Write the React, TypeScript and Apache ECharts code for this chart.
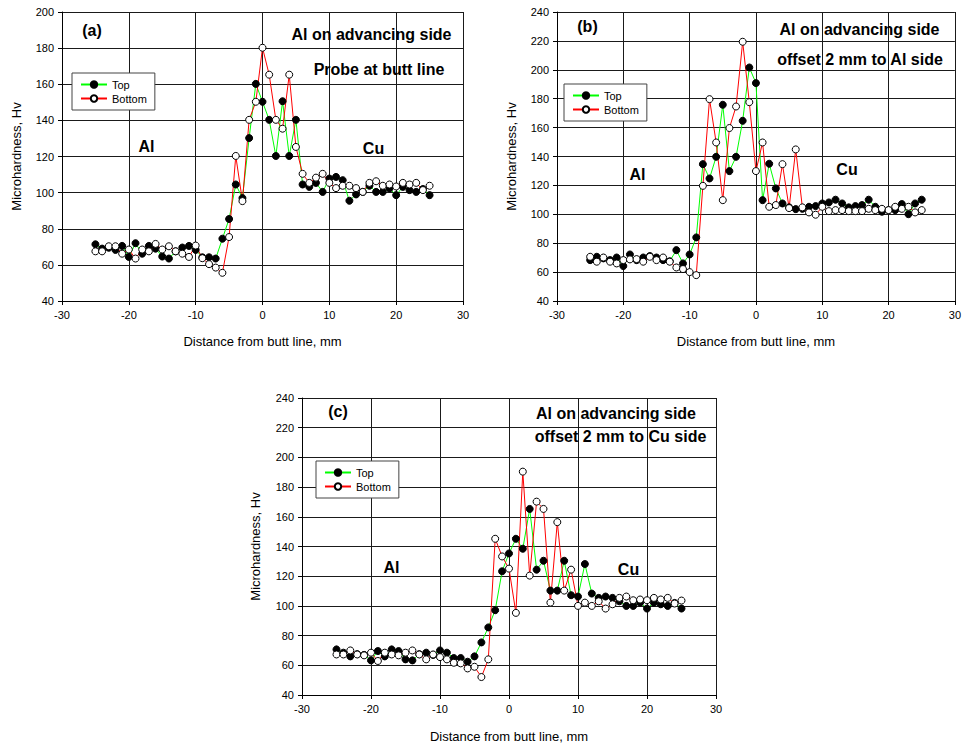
import React, { useEffect, useRef } from "react";
import * as echarts from "echarts";

const distances = [-25, -24, -23, -22, -21, -20, -19, -18, -17, -16, -15, -14, -13, -12, -11, -10, -9, -8, -7, -6, -5, -4, -3, -2, -1, 0, 1, 2, 3, 4, 5, 6, 7, 8, 9, 10, 11, 12, 13, 14, 15, 16, 17, 18, 19, 20, 21, 22, 23, 24, 25];

const topA = [71.4, 69, 69.5, 68.3, 70.5, 64.4, 72, 66.2, 70.5, 69, 64.6, 63.5, 67.5, 69.6, 70.5, 68.3, 64.2, 64.2, 63.5, 74.5, 85.4, 104.5, 97, 130.2, 160.2, 150.3, 140.3, 120.3, 150.6, 120.3, 140.3, 104.5, 103.2, 105.4, 100.4, 107.8, 108.7, 106.9, 95.5, 99, 100.4, 103.8, 100.4, 100.4, 102.3, 98.6, 103.2, 101.4, 100.4, 102, 98.6];
const bottomA = [67.5, 67.5, 70.3, 70.3, 66.2, 68.5, 63.5, 68.5, 67.5, 71.6, 68.5, 70.3, 67.5, 66.2, 64.4, 70.7, 63.7, 60.4, 58.5, 55.6, 75.4, 120.3, 95.3, 140.3, 150.3, 180.2, 165.3, 140.3, 135.4, 165.3, 125.3, 110.4, 105.4, 108.3, 110.4, 105.4, 102.5, 103.8, 103.8, 102.5, 100.4, 105.4, 106.3, 103.8, 104.5, 103.4, 105.4, 104.5, 105.4, 101.4, 103.8];

const topB = [68.3, 70.6, 69.5, 68.3, 70.1, 64.2, 72.2, 68.3, 70.1, 71.1, 70.1, 68.3, 67.5, 75.2, 66, 72.2, 84, 134.7, 124.8, 139.8, 175.8, 129.9, 139.8, 164.7, 201.6, 190.8, 109.8, 135, 117.9, 107.5, 104.8, 103.6, 103.8, 105.2, 105.7, 107.5, 108.2, 110.1, 107.5, 104.8, 105.7, 106.4, 110.1, 105.2, 101.8, 102.9, 102.9, 107.1, 100.1, 107.5, 110.1];
const bottomB = [70.6, 67.2, 70.1, 67.2, 66, 68.3, 68.8, 69, 67.2, 70.6, 68.3, 70.1, 67.2, 63.2, 62.1, 60, 57.9, 119.7, 179.7, 149.7, 109.8, 159.7, 174.6, 219.4, 177.6, 129.9, 149.7, 105.2, 106.4, 134.7, 104.3, 144.9, 104.8, 101.3, 99.7, 105.2, 102.2, 102.9, 102.9, 102.2, 102.2, 102.2, 103.8, 102.9, 103.8, 102.9, 105.2, 103.8, 105.2, 101.3, 102.9];

const topC = [70.7, 68.5, 66, 67.5, 67, 63.3, 69.6, 66, 70.7, 69.6, 64, 63.3, 67.5, 68.5, 67, 70, 68.5, 64.9, 64.9, 62.4, 66, 75.4, 85.5, 97.1, 123.3, 135.3, 145.2, 138.5, 165.3, 124.4, 130.4, 110.3, 110.3, 130.4, 107.2, 106.3, 128.2, 108.3, 105.4, 106.3, 105.4, 103.1, 100, 100, 102.2, 98.2, 102.2, 101.1, 100, 102, 98.2];
const bottomC = [67.3, 67.3, 70, 67.3, 66.7, 68.5, 62.9, 68.5, 67.3, 66.7, 68.5, 70, 67.3, 64, 67.3, 65.5, 64, 61.7, 61.3, 57.9, 59, 52.1, 64, 145.2, 133.3, 125.1, 95.3, 190.4, 120.4, 170.2, 165.3, 102.2, 156.4, 110.3, 124.4, 100, 102.2, 100, 103.1, 98.2, 101.1, 105.4, 106.3, 103.8, 104.3, 103.8, 105.4, 104.3, 105.4, 101.6, 103.6];

const yMaxes = [200, 240, 240];
const panelLabels = ["(a)", "(b)", "(c)"];
const titleLines = [
  ["Al on advancing side", "Probe at butt line"],
  ["Al on advancing side", "offset 2 mm to Al side"],
  ["Al on advancing side", "offset 2 mm to Cu side"],
];
const seriesNames = ["Top", "Bottom"];
const xName = "Distance from butt line, mm";
const yName = "Microhardness, Hv";

const FONT = "'Liberation Sans', Arial, sans-serif";

export default function App() {
  const ref = useRef<HTMLDivElement>(null);
  useEffect(() => {
    document.body.style.margin = "0";
    if (!ref.current) return;
    const chart = echarts.init(ref.current, undefined, { renderer: "svg" });

    const grids = [
      { left: 62, top: 12, width: 401, height: 289 },
      { left: 557, top: 12, width: 398, height: 289 },
      { left: 302, top: 398, width: 414, height: 297 },
    ];
    const xGaps = [34, 34, 35];
    const yGaps = [39, 39, 40];
    const legendPos = [
      { left: 72, top: 73 },
      { left: 564, top: 84 },
      { left: 316, top: 461 },
    ];
    const pairs = [
      [topA, bottomA],
      [topB, bottomB],
      [topC, bottomC],
    ];

    const lineCol = "#1a1a1a";
    const xAxes = grids.map((_, i) => ({
      type: "value",
      gridIndex: i,
      min: -30,
      max: 30,
      interval: 10,
      name: xName,
      nameLocation: "middle",
      nameGap: xGaps[i],
      nameTextStyle: { fontFamily: FONT, fontSize: 13, color: "#000" },
      axisLine: { show: true, onZero: false, lineStyle: { color: "#000", width: 1 } },
      axisTick: { show: true, inside: false, length: 4, lineStyle: { color: "#000" } },
      axisLabel: { fontFamily: FONT, fontSize: 11, color: "#000", margin: 8 },
      splitLine: { show: true, lineStyle: { color: lineCol, width: 1 } },
    }));
    const yAxes = grids.map((_, i) => ({
      type: "value",
      gridIndex: i,
      min: 40,
      max: yMaxes[i],
      interval: 20,
      name: yName,
      nameLocation: "middle",
      nameRotate: 90,
      nameGap: yGaps[i],
      nameTextStyle: { fontFamily: FONT, fontSize: 13, color: "#000" },
      axisLine: { show: true, onZero: false, lineStyle: { color: "#000", width: 1 } },
      axisTick: { show: true, inside: false, length: 4, lineStyle: { color: "#000" } },
      axisLabel: { fontFamily: FONT, fontSize: 11, color: "#000", margin: 8 },
      splitLine: { show: true, lineStyle: { color: lineCol, width: 1 } },
    }));

    const series: any[] = [];
    pairs.forEach((pair, i) => {
      series.push({
        name: seriesNames[0],
        type: "line",
        xAxisIndex: i,
        yAxisIndex: i,
        data: distances.map((d, k) => [d, pair[0][k]]),
        symbol: "circle",
        symbolSize: 7,
        showAllSymbol: true,
        lineStyle: { color: "#00ff00", width: 1 },
        itemStyle: { color: "#000", borderColor: "#000", borderWidth: 1 },
        emphasis: { disabled: true },
      });
      series.push({
        name: seriesNames[1],
        type: "line",
        xAxisIndex: i,
        yAxisIndex: i,
        data: distances.map((d, k) => [d, pair[1][k]]),
        symbol: "circle",
        symbolSize: 7,
        showAllSymbol: true,
        lineStyle: { color: "#ff0000", width: 1 },
        itemStyle: { color: "#fff", borderColor: "#000", borderWidth: 1 },
        emphasis: { disabled: true },
      });
    });

    const legends = legendPos.map((p) => ({
      ...p,
      orient: "vertical",
      data: seriesNames,
      backgroundColor: "#fff",
      borderColor: "#444",
      borderWidth: 1,
      borderRadius: 0,
      padding: [6, 8, 6, 8],
      itemWidth: 26,
      itemHeight: 8,
      itemGap: 3,
      textStyle: { fontFamily: FONT, fontSize: 11, color: "#000" },
      selectedMode: false,
    }));

    const txt = (x: number, y: number, t: string, size: number) => ({
      type: "text",
      x,
      y,
      z: 100,
      style: {
        text: t,
        fontFamily: FONT,
        fontSize: size,
        fontWeight: "bold",
        fill: "#000",
        textAlign: "center",
        textVerticalAlign: "middle",
      },
    });
    const titlePos = [
      [[371.5, 34], [379, 69]],
      [[859.5, 29], [860, 59]],
      [[616, 413], [620.5, 436]],
    ];
    const panelPos = [[92, 30], [587.5, 26], [338, 411]];
    const alPos = [[146.5, 146.5], [637.5, 174], [391.5, 567.5]];
    const cuPos = [[373.5, 148], [847, 169], [628.5, 569]];

    const graphic: any[] = [];
    for (let i = 0; i < 3; i++) {
      graphic.push(txt(panelPos[i][0], panelPos[i][1], panelLabels[i], 16));
      graphic.push(txt(titlePos[i][0][0], titlePos[i][0][1], titleLines[i][0], 16));
      graphic.push(txt(titlePos[i][1][0], titlePos[i][1][1], titleLines[i][1], 16));
      graphic.push(txt(alPos[i][0], alPos[i][1], "Al", 16));
      graphic.push(txt(cuPos[i][0], cuPos[i][1], "Cu", 16));
    }

    chart.setOption({
      animation: false,
      backgroundColor: "#fff",
      textStyle: { fontFamily: FONT },
      grid: grids,
      xAxis: xAxes,
      yAxis: yAxes,
      legend: legends,
      series,
      graphic,
    });
    return () => chart.dispose();
  }, []);
  return <div ref={ref} style={{ width: 964, height: 747 }} />;
}
